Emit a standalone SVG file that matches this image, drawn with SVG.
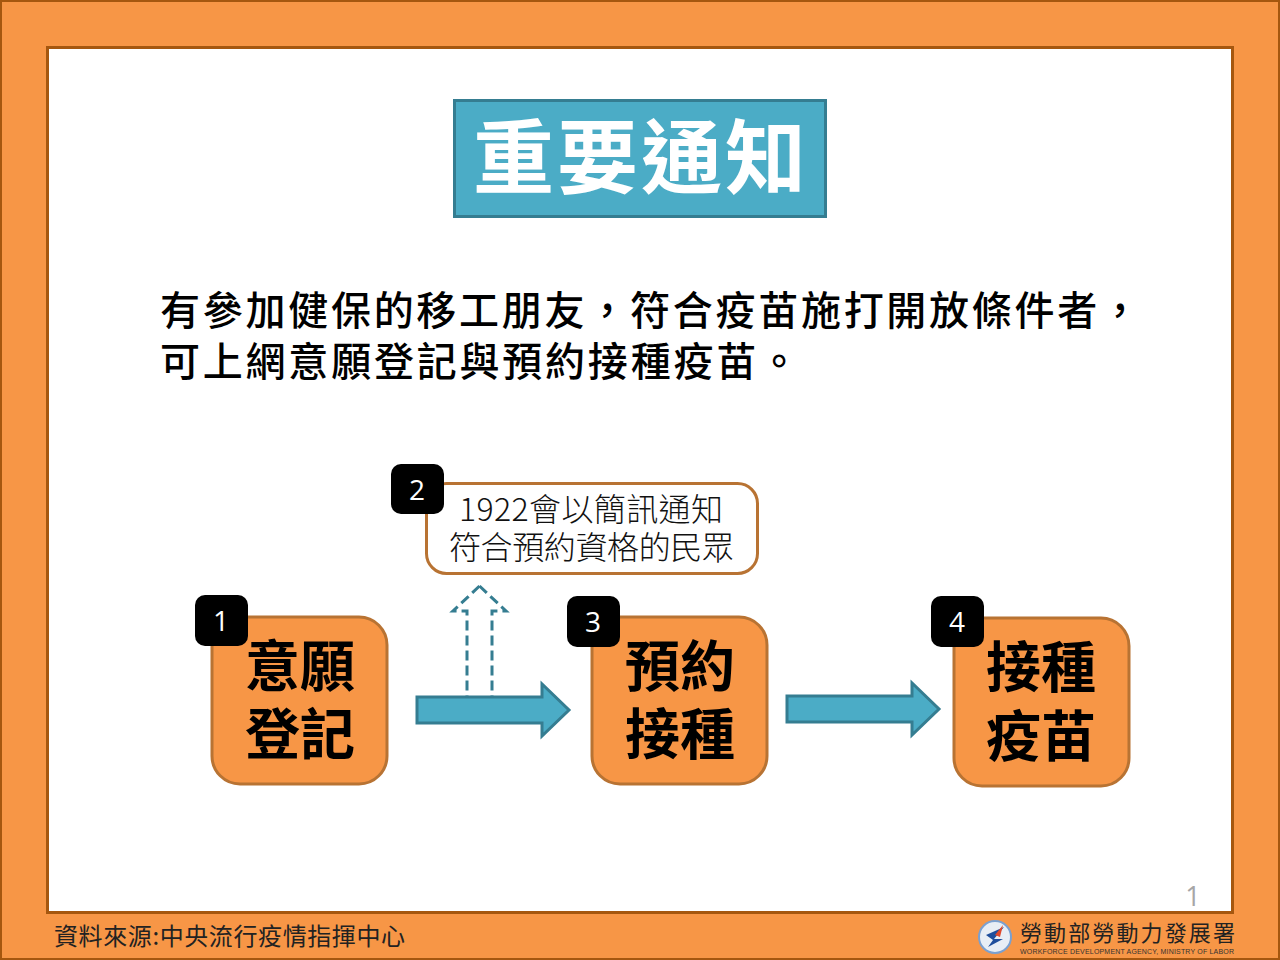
<svg xmlns="http://www.w3.org/2000/svg" width="1280" height="960" viewBox="0 0 1280 960">
<style>
text{font-family:"Noto Sans CJK TC","Noto Sans",sans-serif}
.box{fill:#f79646;stroke:#b87333;stroke-width:3}
.big{font-size:55px;font-weight:700;fill:#000;text-anchor:middle}
.badge{fill:#000}
.num{font-family:"Open Sans","Noto Sans",sans-serif;font-size:28px;fill:#fff;text-anchor:middle}
.body{font-size:40px;font-weight:500;fill:#000}
.note{font-size:32px;font-weight:300;fill:#111}
.arrow{fill:#4bacc6;stroke:#357d91;stroke-width:3}
.dash{fill:none;stroke:#357d91;stroke-width:3;stroke-dasharray:10 5}
</style>
<rect x="1" y="1" width="1278" height="958" fill="#f79646" stroke="#a5570f" stroke-width="2"/>
<rect x="47.500" y="47.500" width="1185" height="865" fill="#fff" stroke="#a5570f" stroke-width="3"/>
<g id="title">
<rect x="454.500" y="100.500" width="371" height="116" fill="#4bacc6" stroke="#357d91" stroke-width="3"/>
<text x="473" y="187" font-size="81" font-weight="700" fill="#fff" textLength="333">重要通知</text>
</g>
<g id="intro">
<text class="body" x="160" y="325" textLength="980">有參加健保的移工朋友，符合疫苗施打開放條件者，</text>
<text class="body" x="160" y="376" textLength="639">可上網意願登記與預約接種疫苗。</text>
</g>
<g id="connectors">
<path class="arrow" d="M417 697H542V684L569 710L542 736V723H417Z"/>
<path class="arrow" d="M787 696H912V683L939 709L912 735V722H787Z"/>
<path class="dash" d="M479.500 586L506 611H492V698"/>
<path class="dash" d="M479.500 586L453 611H467V698"/>
</g>
<g id="node-1">
<rect class="box" x="212" y="617" width="175" height="167" rx="28"/>
<text class="big" x="300" y="686">意願</text>
<text class="big" x="300" y="754">登記</text>
<rect class="badge" x="195" y="595" width="53" height="51" rx="10"/>
<text class="num" x="221" y="631">1</text>
</g>
<g id="node-2">
<rect x="426.500" y="483.500" width="331" height="90" rx="20" fill="#fff" stroke="#b87333" stroke-width="3"/>
<text class="note" x="459" y="521" textLength="264">1922會以簡訊通知</text>
<text class="note" x="449" y="559" textLength="285">符合預約資格的民眾</text>
<rect class="badge" x="391" y="464" width="53" height="50" rx="10"/>
<text class="num" x="417" y="500">2</text>
</g>
<g id="node-3">
<rect class="box" x="592" y="617" width="175" height="167" rx="28"/>
<text class="big" x="680" y="686">預約</text>
<text class="big" x="680" y="754">接種</text>
<rect class="badge" x="567" y="596" width="53" height="51" rx="10"/>
<text class="num" x="593" y="632">3</text>
</g>
<g id="node-4">
<rect class="box" x="954" y="618" width="175" height="168" rx="28"/>
<text class="big" x="1041" y="687">接種</text>
<text class="big" x="1041" y="756">疫苗</text>
<rect class="badge" x="931" y="596" width="53" height="51" rx="10"/>
<text class="num" x="957" y="632">4</text>
</g>
<text x="1193" y="906" font-size="27" fill="#a6a6a6" text-anchor="middle" style="font-family:'Open Sans',sans-serif">1</text>
<text x="54" y="945" font-size="24" fill="#222" textLength="351">資料來源:中央流行疫情指揮中心</text>
<g id="logo">
<circle cx="995" cy="937" r="16" fill="#e8eef5" stroke="#7aa0d0" stroke-width="2"/>
<path d="M986 935L1004 927L994 939L1003 939L988 947L993 940Z" fill="#1f4e9c"/>
<path d="M995 935L1003 925L1000 937Z" fill="#e0492b"/>
<text x="1020" y="941" font-size="22" fill="#222" textLength="215">勞動部勞動力發展署</text>
<text x="1020" y="954" font-size="7" fill="#333" textLength="214" style="font-family:'Liberation Sans',sans-serif">WORKFORCE  DEVELOPMENT AGENCY, MINISTRY OF LABOR</text>
</g>
</svg>
